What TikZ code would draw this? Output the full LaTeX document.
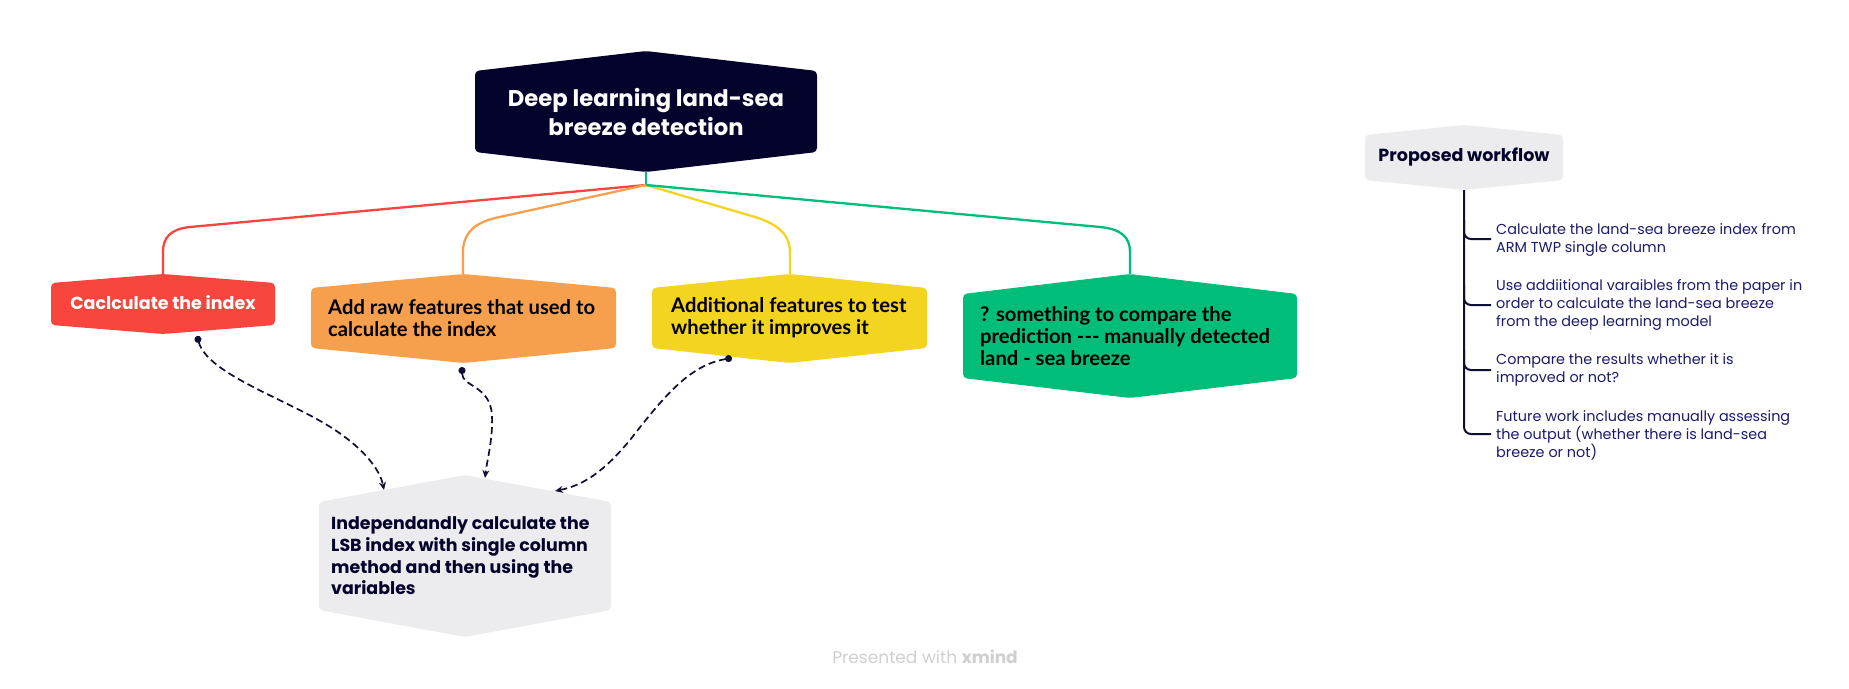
\documentclass[tikz,border=0pt]{standalone}
\usepackage{fontspec}
\usetikzlibrary{arrows.meta}
\newfontfamily\pop{Poppins}
\newfontfamily\lato{Lato}
\definecolor{rootc}{HTML}{03032B}
\definecolor{redc}{HTML}{F8453E}
\definecolor{orangec}{HTML}{F6A04D}
\definecolor{yellowc}{HTML}{F2D421}
\definecolor{greenc}{HTML}{00BD7A}
\definecolor{greyc}{HTML}{ECEBEE}
\definecolor{navyc}{HTML}{0F0F33}
\definecolor{listc}{HTML}{1A1A6E}
\definecolor{footc}{HTML}{CFCFCF}
\newcommand{\hexshape}[7]{%
  \fill[#1, rounded corners=4pt] (#2,#5) -- ({(#2+#3)/2},#4) -- (#3,#5) -- (#3,#6) -- ({(#2+#3)/2},#7) -- (#2,#6) -- cycle;}
\tikzset{
  branch/.style={line width=2.3pt},
  rel/.style={navyc, line width=1.7pt, dash pattern=on 7pt off 4pt, {Circle[length=7pt]}-{Stealth[length=8pt,width=7pt]}},
  tree/.style={navyc, line width=2pt, rounded corners=7pt},
  topic/.style={inner sep=0pt, align=left, anchor=west},
}
\begin{document}
\begin{tikzpicture}[x=1pt,y=-1pt]
\useasboundingbox (0,0) rectangle (1849,688);
% shapes
\hexshape{rootc}{475}{817}{51}{71}{152}{172}
\hexshape{redc}{51}{275}{274}{283}{325}{334}
\hexshape{orangec}{311}{616}{274}{288}{348}{363}
\hexshape{yellowc}{652}{927}{274}{288}{348}{363}
\hexshape{greenc}{963}{1297}{274}{294}{378}{398}
\hexshape{greyc}{319}{611}{475}{502}{610}{637}
\hexshape{greyc}{1365}{1563}{125}{135}{180}{190}
% text nodes
\node[align=center, text=white, font=\pop\bfseries\fontsize{22.7}{29}\selectfont] (root) at (646,112) {Deep learning land-sea\\breeze detection};
\node[text=white, font=\pop\bfseries\fontsize{17.5}{20}\selectfont] (red) at (163,303) {Caclculate the index};
\node[topic, font=\lato\bfseries\fontsize{20.2}{22}\selectfont] (orange) at (328,318) {Add raw features that used to\\calculate the index};
\node[topic, font=\lato\bfseries\fontsize{20.2}{22}\selectfont] (yellow) at (671,318) {Additional features to test\\whether it improves it};
\node[topic, font=\lato\bfseries\fontsize{20.2}{22}\selectfont] (green) at (980,336) {? something to compare the\\prediction --- manually detected\\land - sea breeze};
\node[topic, text=rootc, font=\pop\bfseries\fontsize{17.4}{21.7}\selectfont] (grey) at (331,556) {Independandly calculate the\\LSB index with single column\\method and then using the\\variables};
\node[text=rootc, font=\pop\bfseries\fontsize{17.5}{20}\selectfont] (pw) at (1464,157) {Proposed workflow};
\node[topic, text=listc, font=\pop\fontsize{14.4}{18}\selectfont] (l1) at (1496,240) {Calculate the land-sea breeze index from\\ARM TWP single column};
\node[topic, text=listc, font=\pop\fontsize{14.4}{18}\selectfont] (l2) at (1496,305) {Use addiitional varaibles from the paper in\\order to calculate the land-sea breeze\\from the deep learning model};
\node[topic, text=listc, font=\pop\fontsize{14.4}{18}\selectfont] (l3) at (1496,370) {Compare the results whether it is\\improved or not?};
\node[topic, text=listc, font=\pop\fontsize{14.4}{18}\selectfont] (l4) at (1496,435) {Future work includes manually assessing\\the output (whether there is land-sea\\breeze or not)};
\node[text=footc, font=\pop\fontsize{17}{20}\selectfont] (foot) at (925,657) {Presented with \textbf{xmind}};
% anchor coordinates
\coordinate (rootb) at (646,172);
\coordinate (J) at (646,185);
\coordinate (redt) at (163,274);
\coordinate (oranget) at (463,274);
\coordinate (yellowt) at (790,274);
\coordinate (greent) at (1130,274);
\coordinate (redb) at (197,336);
\coordinate (orangeb) at (462,367);
\coordinate (yellowb) at (732,358);
\coordinate (greya) at (384,490);
\coordinate (greyb) at (485,478);
\coordinate (greyc) at (555,491);
\coordinate (pwb) at (1464,190);
% branches
\draw[branch, greenc] (rootb) -- (J);
\draw[branch, redc] (J) -- (190,227) .. controls (170,229) and (163,238) .. (163,252) -- (redt);
\draw[branch, orangec] (J) -- (495,218) .. controls (471,224) and (463,236) .. (463,252) -- (oranget);
\draw[branch, yellowc] (J) -- (755,217) .. controls (781,225) and (790,237) .. (790,252) -- (yellowt);
\draw[branch, greenc] (J) -- (1100,227) .. controls (1122,229) and (1130,238) .. (1130,252) -- (greent);
% relationships
\draw[rel] (redb) .. controls (208,375) and (290,400) .. (335,430) .. controls (365,450) and (380,470) .. (greya);
\draw[rel] (orangeb) .. controls (462,387) and (490,385) .. (492,415) .. controls (493,440) and (487,460) .. (greyb);
\draw[rel] (yellowb) .. controls (690,365) and (665,395) .. (630,440) .. controls (605,470) and (585,485) .. (greyc);
% right tree
\draw[tree] (pwb) -- (1464,434) -- (1491,434);
\draw[tree] (1464,220) -- (1464,239) -- (1491,239);
\draw[tree] (1464,285) -- (1464,305) -- (1491,305);
\draw[tree] (1464,350) -- (1464,370) -- (1491,370);
\end{tikzpicture}
\end{document}
